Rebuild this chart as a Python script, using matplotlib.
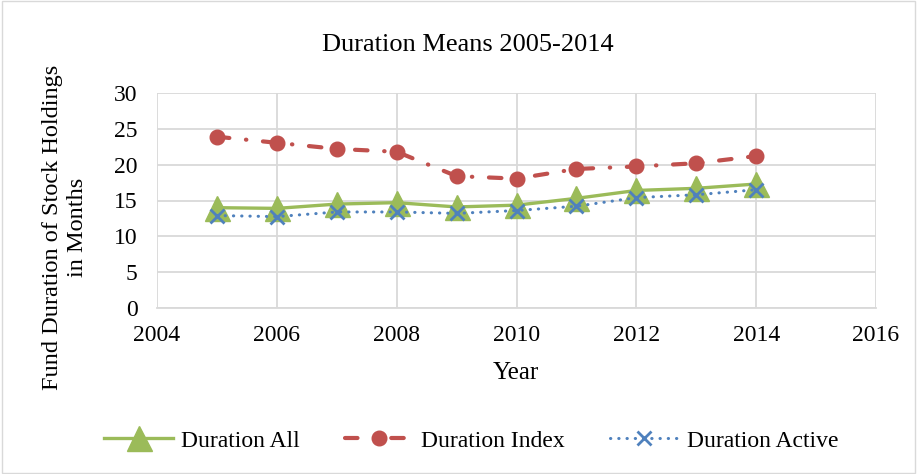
import matplotlib.pyplot as plt
from matplotlib.patches import Rectangle

years = [2005, 2006, 2007, 2008, 2009, 2010, 2011, 2012, 2013, 2014]
duration_all = [14.0, 13.9, 14.5, 14.7, 14.1, 14.35, 15.3, 16.4, 16.7, 17.3]
duration_index = [23.9, 23.05, 22.2, 21.8, 18.4, 18.05, 19.4, 19.75, 20.2, 21.2]
duration_active = [12.9, 12.75, 13.4, 13.4, 13.2, 13.6, 14.2, 15.4, 15.8, 16.5]

plt.rcParams['font.family'] = ['Liberation Serif', 'DejaVu Serif']

fig = plt.figure(figsize=(9.17, 4.74), dpi=100)
ax = fig.add_axes([157 / 917, 1 - 308 / 474, (876 - 157) / 917, (308 - 93) / 474])

ax.plot(years, duration_all, color='#9bbb59', lw=2.4, marker='^', ms=18,
        label='Duration All', zorder=3)
ax.plot(years, duration_index, color='#c0504d', lw=3, linestyle=(0, (3, 4, 0.1, 4)),
        marker='o', ms=10.5, dash_capstyle='round', label='Duration Index', zorder=3)
ax.plot(years, duration_active, color='#4f81bd', lw=2.2, linestyle=(0, (0.1, 2.6)),
        dash_capstyle='round', marker='x', ms=10, mew=2, label='Duration Active', zorder=4)

ax.set_xlim(2004, 2016)
ax.set_ylim(0, 30)
ax.set_xticks(range(2004, 2017, 2))
ax.set_yticks(range(0, 31, 5))
ax.tick_params(length=0, labelsize=17)
ax.tick_params(axis='x', pad=12)
ax.tick_params(axis='y', pad=14)
ax.grid(True, color='#d9d9d9', lw=1.3)
ax.set_axisbelow(True)
for s in ['top', 'right', 'left']:
    ax.spines[s].set_visible(False)
ax.spines['bottom'].set_color('#d9d9d9')
ax.spines['bottom'].set_linewidth(1.3)

fig.text(468 / 917, 1 - 45 / 474, 'Duration Means 2005-2014', fontsize=19,
         ha='center', va='center')
fig.text(516 / 917, 1 - 373 / 474, 'Year', fontsize=18, ha='center', va='center')
fig.text(65 / 917, 1 - 227 / 474, 'Fund Duration of Stock Holdings\nin Months',
         fontsize=17.5, rotation=90, ha='center', va='center', multialignment='center',
         linespacing=1.2)

fig.legend(loc='center', bbox_to_anchor=(0.514, 1 - 441 / 474), ncol=3, frameon=False,
           fontsize=17, handlelength=2.9, handletextpad=0.35, columnspacing=1.9)

fig.patches.append(Rectangle((0.002, 0.002), 0.996, 0.996, transform=fig.transFigure,
                             fill=False, edgecolor='#d9d9d9', lw=1))

fig.savefig('out.png', dpi=100)
